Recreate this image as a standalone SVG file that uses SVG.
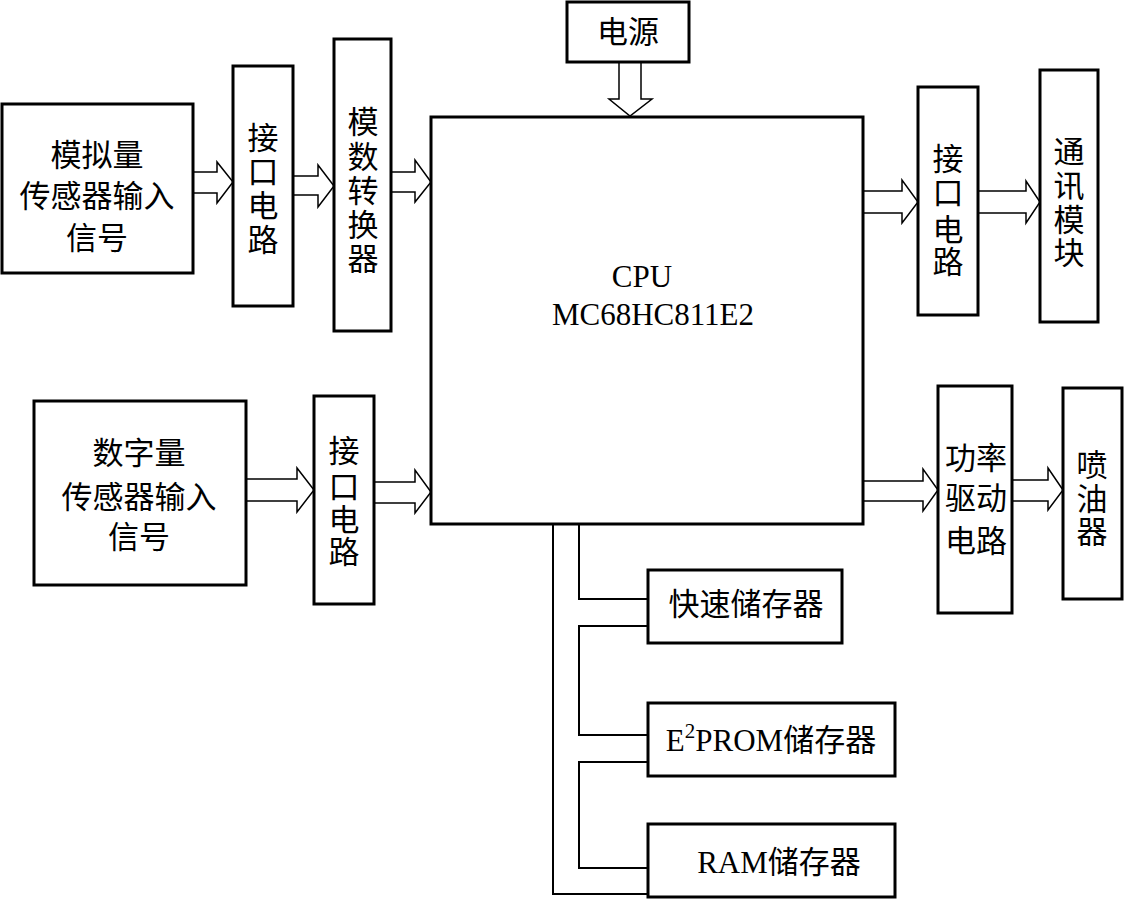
<svg xmlns="http://www.w3.org/2000/svg" width="1124" height="899" viewBox="0 0 1124 899">
<style>
.box{fill:#fff;stroke:#000;stroke-width:3}
.arr{fill:#fff;stroke:#000;stroke-width:1.5;stroke-linejoin:miter}
.bus{fill:none;stroke:#000;stroke-width:2}
text{font-family:"Liberation Serif","Noto Sans CJK SC",serif;font-size:31px;fill:#000;text-anchor:middle}
.lat{font-size:31px}
</style>
<rect width="1124" height="899" fill="#fff"/>
<g id="connectors">
<polygon class="arr" points="193,172 217,172 217,162 233,182 217,203 217,193 193,193"/>
<polygon class="arr" points="293,176 318,176 318,165 334,186 318,207 318,195 293,195"/>
<polygon class="arr" points="391,172 415,172 415,160 431,182 415,202 415,192 391,192"/>
<polygon class="arr" points="619,62 619,99 609,99 630,116 652,99 641,99 641,62"/>
<polygon class="arr" points="863,191 902,191 902,180 918,202 902,223 902,213 863,213"/>
<polygon class="arr" points="978,191 1026,191 1026,181 1040,202 1026,223 1026,213 978,213"/>
<polygon class="arr" points="246,479 297,479 297,468 314,490 297,512 297,501 246,501"/>
<polygon class="arr" points="374,482 415,482 415,470 431,492 415,513 415,503 374,503"/>
<polygon class="arr" points="863,481 923,481 923,469 938,490 923,511 923,501 863,501"/>
<polygon class="arr" points="1012,480 1048,480 1048,468 1063,490 1048,510 1048,501 1012,501"/>
<polyline class="bus" points="553,524 553,894 648,894"/>
<polyline class="bus" points="579,524 579,599 648,599"/>
<polyline class="bus" points="648,626 579,626 579,735 648,735"/>
<polyline class="bus" points="648,762 579,762 579,868 648,868"/>
</g>
<g id="analog">
<rect class="box" x="2" y="104" width="191" height="169"/>
<text x="97" y="166">模拟量</text>
<text x="97" y="207">传感器输入</text>
<text x="97" y="249">信号</text>
</g>
<g id="iface1">
<rect class="box" x="233" y="66" width="60" height="240"/>
<text x="263" y="149">接</text>
<text x="263" y="183">口</text>
<text x="263" y="217">电</text>
<text x="263" y="251">路</text>
</g>
<g id="adc">
<rect class="box" x="334" y="39" width="57" height="292"/>
<text x="363" y="133">模</text>
<text x="363" y="168">数</text>
<text x="363" y="202">转</text>
<text x="363" y="236">换</text>
<text x="363" y="270">器</text>
</g>
<g id="power">
<rect class="box" x="567" y="2" width="122" height="60"/>
<text x="628" y="43">电源</text>
</g>
<g id="cpu">
<rect class="box" x="431" y="117" width="432" height="407"/>
<text class="lat" x="642" y="287">CPU</text>
<text class="lat" x="653" y="325">MC68HC811E2</text>
</g>
<g id="iface2">
<rect class="box" x="918" y="87" width="60" height="228"/>
<text x="948" y="170">接</text>
<text x="948" y="204">口</text>
<text x="948" y="241">电</text>
<text x="948" y="273">路</text>
</g>
<g id="comm">
<rect class="box" x="1040" y="70" width="58" height="252"/>
<text x="1069" y="163">通</text>
<text x="1069" y="197">讯</text>
<text x="1069" y="231">模</text>
<text x="1069" y="264">块</text>
</g>
<g id="digital">
<rect class="box" x="34" y="401" width="212" height="184"/>
<text x="139" y="464">数字量</text>
<text x="139" y="508">传感器输入</text>
<text x="139" y="548">信号</text>
</g>
<g id="iface3">
<rect class="box" x="314" y="396" width="60" height="208"/>
<text x="344" y="462">接</text>
<text x="344" y="498">口</text>
<text x="344" y="531">电</text>
<text x="344" y="563">路</text>
</g>
<g id="driver">
<rect class="box" x="938" y="386" width="74" height="227"/>
<text x="976" y="469">功率</text>
<text x="976" y="509">驱动</text>
<text x="976" y="552">电路</text>
</g>
<g id="injector">
<rect class="box" x="1063" y="388" width="59" height="211"/>
<text x="1092" y="476">喷</text>
<text x="1092" y="510">油</text>
<text x="1092" y="543">器</text>
</g>
<g id="flash">
<rect class="box" x="648" y="570" width="194" height="73"/>
<text x="746" y="615">快速储存器</text>
</g>
<g id="eeprom">
<rect class="box" x="648" y="703" width="247" height="73"/>
<text x="771" y="751" font-size="32">E<tspan font-size="21" dy="-13">2</tspan><tspan dy="13">PROM储存器</tspan></text>
</g>
<g id="ram">
<rect class="box" x="648" y="824" width="247" height="73"/>
<text x="779" y="873" font-size="32">RAM储存器</text>
</g>
</svg>
